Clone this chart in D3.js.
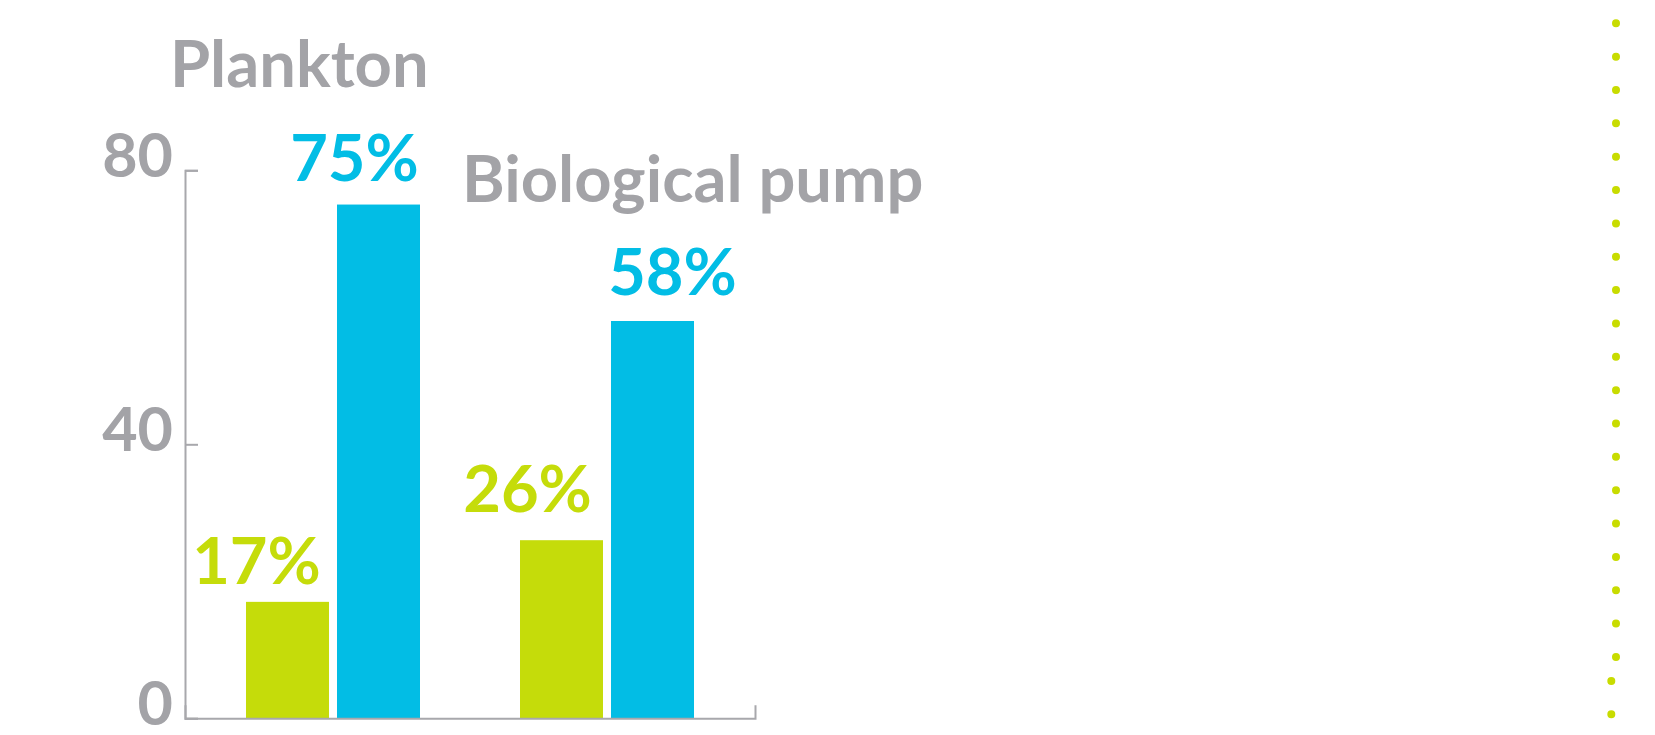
<!DOCTYPE html>
<html>
<head>
<meta charset="utf-8">
<script src="https://d3js.org/d3.v7.min.js"></script>
<style>
  body { margin: 0; background: #ffffff; }
  text { font-family: Lato, "Open Sans", sans-serif; font-weight: 700; }
</style>
</head>
<body>
<div id="graph"></div>
<script>
// data
var categories = ["Plankton", "Biological pump"];
var seriesKeys = ["green", "blue"];
var greenValues = [17, 26];
var blueValues = [75, 58];
var yTicks = [0, 40, 80];

var color = d3.scaleOrdinal()
    .domain(seriesKeys)
    .range(["#c5dc0a", "#02bde5"]);

// layout only (label nudges in px, not data)
var titlePos = [{dx: -76, y: 87}, {dx: -58, y: 202}];
var labelPos = {
    green: [{dx: -31, gap: 18}, {dx: -34, gap: 28}],
    blue: [{dx: -24, gap: 24}, {dx: 20, gap: 26}]
};

var W = 1655, H = 735;
var gray = "#a3a3a7";

var svg = d3.select("#graph").append("svg")
    .attr("width", W).attr("height", H);

var x0 = d3.scaleBand()
    .domain(categories)
    .range([185, 755])
    .paddingInner(0.365)
    .paddingOuter(0.2226);

var x1 = d3.scaleBand()
    .domain(seriesKeys)
    .range([0, x0.bandwidth()])
    .paddingInner(0.088);

var y = d3.scaleLinear()
    .domain([0, 80])
    .range([718.3, 170.3]);

var rows = categories.map(function(c, i) {
    return {cat: c, i: i, vals: [
        {key: "green", value: greenValues[i]},
        {key: "blue", value: blueValues[i]}
    ]};
});

// bars
var groups = svg.selectAll("g.group")
    .data(rows)
    .enter()
    .append("g")
        .attr("class", "group")
        .attr("transform", function(d) { return "translate(" + x0(d.cat) + ",0)"; });

groups.selectAll("rect")
    .data(function(d) { return d.vals; })
    .enter()
    .append("rect")
        .attr("x", function(d) { return x1(d.key); })
        .attr("y", function(d) { return y(d.value); })
        .attr("width", x1.bandwidth())
        .attr("height", function(d) { return y(0) - y(d.value); })
        .style("fill", function(d) { return color(d.key); });

// value labels
groups.selectAll("text.val")
    .data(function(d) { return d.vals.map(function(v) { return {key: v.key, value: v.value, i: d.i}; }); })
    .enter()
    .append("text")
        .attr("class", "val")
        .attr("x", function(d) { return x1(d.key) + x1.bandwidth() / 2 + labelPos[d.key][d.i].dx; })
        .attr("y", function(d) { return y(d.value) - labelPos[d.key][d.i].gap; })
        .attr("text-anchor", "middle")
        .style("font-size", "65px")
        .style("fill", function(d) { return color(d.key); })
        .text(function(d) { return d.value + "%"; });

// category titles
svg.selectAll("text.title")
    .data(rows)
    .enter()
    .append("text")
        .attr("class", "title")
        .attr("x", function(d) { return x0(d.cat) + titlePos[d.i].dx; })
        .attr("y", function(d) { return titlePos[d.i].y; })
        .style("font-size", "65px")
        .style("fill", gray)
        .text(function(d) { return d.cat; });

// y axis, ticks point inward
var yAxis = svg.append("g")
    .attr("transform", "translate(185,0)")
    .call(d3.axisLeft(y).tickValues(yTicks).tickSizeInner(-13).tickSizeOuter(-13).tickPadding(12));

// x axis, just the baseline with end tick
var xAxis = svg.append("g")
    .attr("transform", "translate(0," + y(0) + ")")
    .call(d3.axisBottom(x0).tickSize(0).tickSizeOuter(-13).tickFormat(""));

[yAxis, xAxis].forEach(function(a) {
    a.selectAll("path, line").style("stroke", "#a8a8ac").style("stroke-width", 2);
});
yAxis.selectAll("text")
    .attr("dy", "0.1em")
    .style("font-size", "61px")
    .style("font-family", "Lato, 'Open Sans', sans-serif")
    .style("font-weight", 700)
    .style("fill", gray);

// dotted separator on the right
svg.append("line")
    .attr("x1", 1616).attr("x2", 1616)
    .attr("y1", 23.3).attr("y2", 657)
    .style("stroke", "#c8dc00")
    .style("stroke-width", 8)
    .style("stroke-linecap", "round")
    .style("stroke-dasharray", "0 33.35");
svg.append("line")
    .attr("x1", 1611.3).attr("x2", 1611.3)
    .attr("y1", 681).attr("y2", 715)
    .style("stroke", "#c8dc00")
    .style("stroke-width", 8)
    .style("stroke-linecap", "round")
    .style("stroke-dasharray", "0 33.3");
</script>
</body>
</html>
